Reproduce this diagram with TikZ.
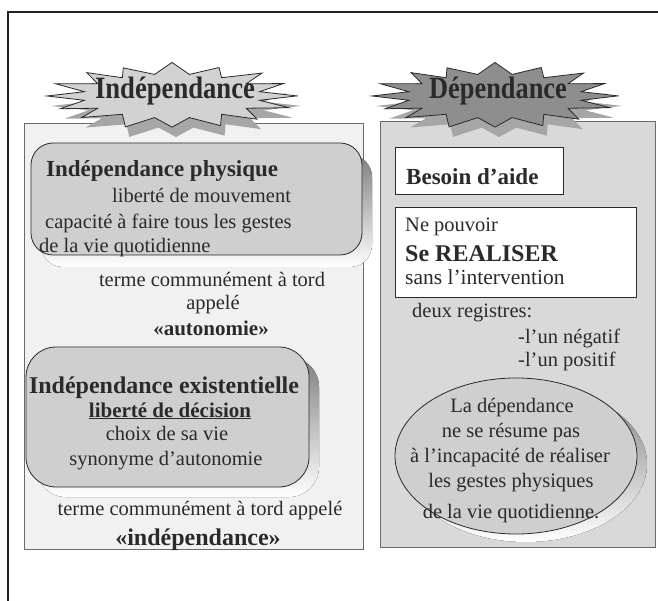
\documentclass[tikz,border=0pt]{standalone}
\usepackage{fontspec}
\setmainfont{Liberation Serif}
\definecolor{frame}{HTML}{222222}
\definecolor{edge}{HTML}{6A6A6A}
\definecolor{lpanel}{HTML}{F1F1F1}
\definecolor{rpanel}{HTML}{D9D9D9}
\definecolor{boxfill}{HTML}{CFCFCF}
\definecolor{shade}{HTML}{9C9C9C}
\definecolor{starlight}{HTML}{D2D2D2}
\definecolor{stardark}{HTML}{8E8E8E}
\definecolor{starshadow}{HTML}{A6A6A6}
\definecolor{ink}{HTML}{2A2A2A}
\tikzset{
  panel/.style={draw=edge, line width=1pt},
  txt/.style={inner sep=0pt, text=ink, font=\fontsize{20.5}{24}\selectfont},
  btxt/.style={inner sep=0pt, text=ink, font=\fontsize{23.5}{26}\selectfont\bfseries},
  title/.style={inner sep=0pt, text=ink, font=\fontsize{31}{34}\selectfont\bfseries},
  whitebox/.style={draw=ink, line width=1pt, fill=white},
}
\newcommand\starshape[3]{% center x, center y, half width
  (#1+#3,#2) \foreach \i in {1,...,16} {
    -- ({#1+0.72*#3*cos((\i-0.5)*22.5)},{#2+22*sin((\i-0.5)*22.5)})
    -- ({#1+#3*(1+0.03*sin(\i*137))*cos(\i*22.5)},{#2+32*(1+0.05*cos(\i*211))*sin(\i*22.5)})
  } -- cycle}
\begin{document}
\begin{tikzpicture}[x=1pt,y=-1pt]
\useasboundingbox (0,0) rectangle (658,601);
% outer frame lines
\draw[frame, line width=1.4pt] (8,601) -- (8,12) -- (658,12);
% panels
\node[panel, fill=lpanel, minimum width=339pt, minimum height=426pt, anchor=north west, inner sep=0pt] (lp) at (24,123) {};
\node[panel, fill=rpanel, minimum width=275pt, minimum height=426pt, anchor=north west, inner sep=0pt] (rp) at (380,121) {};
% starbursts
\fill[starshadow] \starshape{176}{106}{124};
\fill[starlight, draw=ink, line width=0.8pt] \starshape{172}{96}{124};
\node[title, anchor=base] (t1) at (175,99) {\scalebox{0.86}[1]{Indépendance}};
\fill[starshadow] \starshape{499}{106}{122};
\fill[stardark, draw=ink, line width=0.8pt] \starshape{495}{96}{122};
\node[title, anchor=base] (t2) at (498,99) {\scalebox{0.85}[1]{Dépendance}};
% box 1
\fill[shade, rounded corners=22pt] (41,155) rectangle (372,267);
\draw[ink, line width=0.8pt, fill=boxfill, rounded corners=22pt] (31,143) rectangle (362,255);
\node[btxt, font=\fontsize{23}{26}\selectfont\bfseries, anchor=base west] (ip) at (46,177) {Indépendance physique};
\node[txt, anchor=base west] (lm) at (112,203) {liberté de mouvement};
\node[txt, anchor=base west] (cf) at (45,229) {capacité à faire tous les gestes};
\node[txt, anchor=base west] (vq) at (39,253) {de la vie quotidienne};
\node[txt, anchor=base] (tc1) at (212,287) {terme communément à tord};
\node[txt, anchor=base] (ap1) at (213,310) {appelé};
\node[txt, font=\fontsize{21}{24}\selectfont\bfseries, anchor=base] (au) at (211,335) {«autonomie»};
% box 2
\fill[shade, rounded corners=30pt] (36,357) rectangle (319,497);
\draw[ink, line width=0.8pt, fill=boxfill, rounded corners=30pt] (26,347) rectangle (309,487);
\node[btxt, font=\fontsize{24}{26}\selectfont\bfseries, anchor=base] (ie) at (164,393) {Indépendance existentielle};
\node[txt, font=\fontsize{21}{24}\selectfont\bfseries, anchor=base] (ld) at (170,417) {\underline{liberté de décision}};
\node[txt, anchor=base] (cv) at (167,440) {choix de sa vie};
\node[txt, anchor=base] (sa) at (166,465) {synonyme d'autonomie};
\node[txt, anchor=base] (tc2) at (200,515) {terme communément à tord appelé};
\node[txt, font=\fontsize{24}{26}\selectfont\bfseries, anchor=base] (id) at (198,545) {«indépendance»};
% right panel boxes
\draw[whitebox] (395,148) rectangle (563,195);
\node[txt, font=\fontsize{23}{26}\selectfont\bfseries, anchor=base west] (ba) at (406,185) {Besoin d'aide};
\draw[whitebox] (395,208) rectangle (636,298);
\node[txt, anchor=base west] (np) at (405,232) {Ne pouvoir};
\node[txt, font=\fontsize{24}{26}\selectfont\bfseries, anchor=base west] (sr) at (405,262) {Se REALISER};
\node[txt, font=\fontsize{21.5}{24}\selectfont, anchor=base west] (si) at (405,285) {sans l'intervention};
\node[txt, anchor=base west] (dr) at (412,318) {deux registres:};
\node[txt, anchor=base west] (ln) at (518,343) {-l'un négatif};
\node[txt, anchor=base west] (lpo) at (518,366) {-l'un positif};
% ellipse
\fill[shade] (526,464) ellipse [x radius=121, y radius=78];
\draw[ink, line width=0.8pt, fill=boxfill] (516,456) ellipse [x radius=121, y radius=78];
\node[txt, anchor=base] (e1) at (512,412) {La dépendance};
\node[txt, anchor=base] (e2) at (511,437) {ne se résume pas};
\node[txt, anchor=base] (e3) at (510,462) {à l'incapacité de réaliser};
\node[txt, anchor=base] (e4) at (511,487) {les gestes physiques};
\node[txt, anchor=base] (e5) at (511,518) {de la vie quotidienne.};
\end{tikzpicture}
\end{document}
